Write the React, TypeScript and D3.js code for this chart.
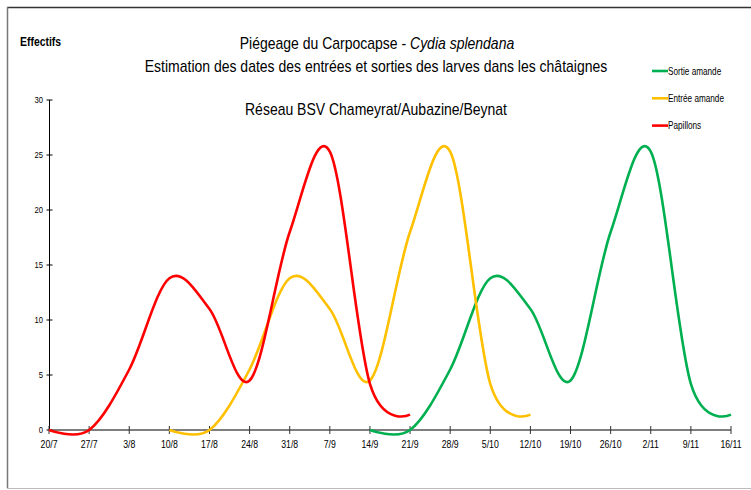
import React from 'react';
import * as d3 from 'd3';

// weekly dates on the x axis
const dates = ['20/7', '27/7', '3/8', '10/8', '17/8', '24/8', '31/8', '7/9', '14/9', '21/9', '28/9', '5/10', '12/10', '19/10', '26/10', '2/11', '9/11', '16/11'];
const yTicks = [0, 5, 10, 15, 20, 25, 30];

// one value per date, null where the series has no point
const papillons = [0, 0, 5.5, 13.8, 11, 4.5, 18, 25.3, 4.2, 1.4, null, null, null, null, null, null, null, null];
const entreeAmande = [null, null, null, 0, 0, 5.5, 13.8, 11, 4.5, 18, 25.3, 4.2, 1.4, null, null, null, null, null];
const sortieAmande = [null, null, null, null, null, null, null, null, 0, 0, 5.5, 13.8, 11, 4.5, 18, 25.3, 4.2, 1.4];

const series = [
  { name: 'Sortie amande', color: '#00b050', values: sortieAmande },
  { name: 'Entrée amande', color: '#ffc000', values: entreeAmande },
  { name: 'Papillons', color: '#ff0000', values: papillons },
];

const W = 751;
const H = 490;
const SX = 0.83; // narrow font look
const TSX = 0.875; // titles

const App = () => {
  const x = d3.scalePoint<string>().domain(dates).range([49, 731]);
  const y = d3.scaleLinear().domain([0, 30]).range([430, 100]);

  const line = d3.line<number | null>()
    .defined((d) => d !== null)
    .x((_, i) => x(dates[i]) as number)
    .y((d) => y(d as number))
    .curve(d3.curveCardinal.tension(0));

  return (
    <svg width={W} height={H} style={{ position: 'absolute', left: 0, top: 0 }} fontFamily="'Liberation Sans', Arial, sans-serif">
      <rect x={0} y={0} width={W} height={H} fill="#fff" />
      {/* frame */}
      <line x1={7} y1={7.5} x2={W} y2={7.5} stroke="#333" strokeWidth={1.5} />
      <line x1={7.5} y1={7} x2={7.5} y2={488} stroke="#777" strokeWidth={1.5} />
      <line x1={7} y1={488.5} x2={W} y2={488.5} stroke="#bbb" strokeWidth={1} />

      {/* titles */}
      <g transform={`translate(377,49) scale(${TSX},1)`}>
        <text textAnchor="middle" fontSize={16} fill="#000">
          Piégeage du Carpocapse - <tspan fontStyle="italic">Cydia splendana</tspan>
        </text>
      </g>
      <g transform={`translate(376,72) scale(${TSX},1)`}>
        <text textAnchor="middle" fontSize={16} fill="#000">
          Estimation des dates des entrées et sorties des larves dans les châtaignes
        </text>
      </g>
      <g transform={`translate(376,115) scale(${TSX},1)`}>
        <text textAnchor="middle" fontSize={16} fill="#000">Réseau BSV Chameyrat/Aubazine/Beynat</text>
      </g>
      <g transform="translate(20,46) scale(0.87,1)">
        <text fontSize={12} fontWeight="bold" fill="#000">Effectifs</text>
      </g>

      {/* y axis */}
      <line x1={49.5} y1={y(30)} x2={49.5} y2={y(0)} stroke="#000" strokeWidth={1} />
      {yTicks.map((t) => (
        <g key={t}>
          <line x1={46.5} x2={52.5} y1={y(t)} y2={y(t)} stroke="#000" strokeWidth={1} />
          <g transform={`translate(43,${y(t) + 3}) scale(0.85,1)`}>
            <text textAnchor="end" fontSize={9} fill="#000">{t}</text>
          </g>
        </g>
      ))}

      {/* x axis */}
      <line x1={49} y1={430} x2={731} y2={430} stroke="#555" strokeWidth={1.5} />
      {dates.map((d) => (
        <g key={d}>
          <line x1={x(d)} x2={x(d)} y1={426} y2={434} stroke="#333" strokeWidth={1} />
          <g transform={`translate(${x(d)},448) scale(${SX},1)`}>
            <text textAnchor="middle" fontSize={10.5} fill="#000">{d}</text>
          </g>
        </g>
      ))}

      {/* curves */}
      {series.map((s) => (
        <path key={s.name} d={line(s.values) || ''} fill="none" stroke={s.color} strokeWidth={2.6} strokeLinejoin="round" />
      ))}

      {/* legend */}
      {series.map((s, i) => (
        <g key={s.name} transform={`translate(652,${71 + i * 27.3})`}>
          <line x1={0} x2={16} y1={0} y2={0} stroke={s.color} strokeWidth={2.6} />
          <g transform={`translate(16,3.5) scale(0.82,1)`}>
            <text fontSize={10} fill="#000">{s.name}</text>
          </g>
        </g>
      ))}
    </svg>
  );
};

export default App;
